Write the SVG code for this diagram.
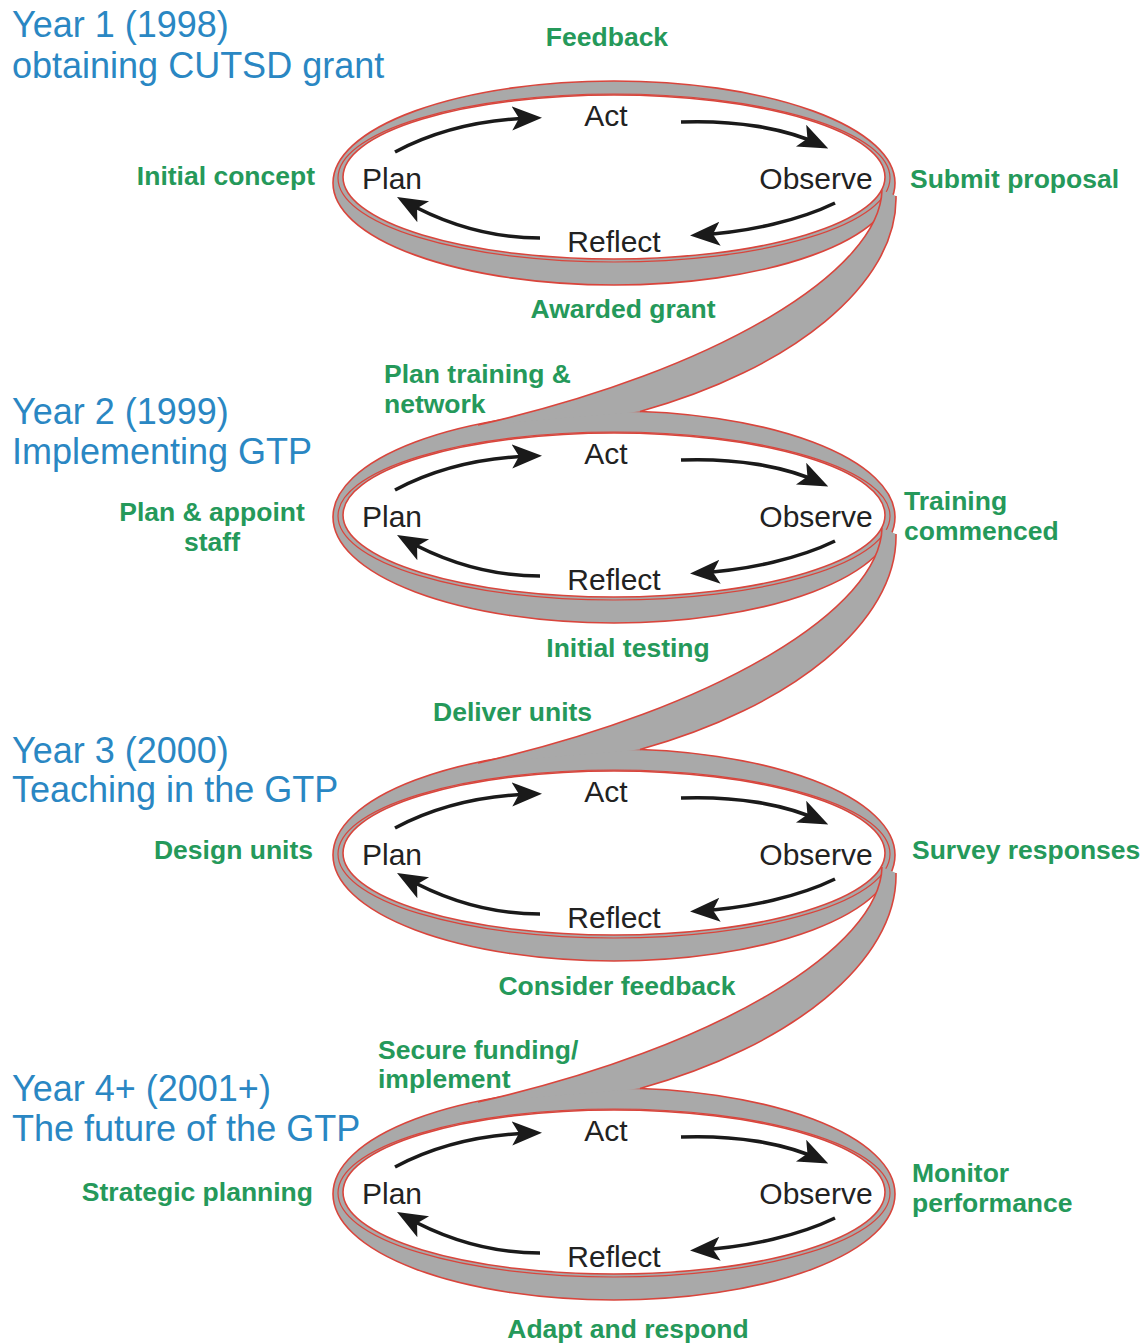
<svg xmlns="http://www.w3.org/2000/svg" width="1148" height="1344" viewBox="0 0 1148 1344">
<defs>
<style>
.outer{fill:#a9a9a9;stroke:#d9453c;stroke-width:1.6}
.mid{fill:none;stroke:#d9453c;stroke-width:1.2}
.inner{fill:#ffffff;stroke:#d9453c;stroke-width:1.6}
.arr{fill:none;stroke:#1a1a1a;stroke-width:3.6;marker-end:url(#ah)}
.blk{font-family:"Liberation Sans",Arial,sans-serif;font-size:30px;fill:#222222;text-anchor:middle}
.grn{font-family:"Liberation Sans",Arial,sans-serif;font-size:26.5px;font-weight:bold;fill:#25995a}
.blu{font-family:"Liberation Sans",Arial,sans-serif;font-size:36px;fill:#2a87c3}
.cfill{fill:#a9a9a9;stroke:none}
.cedge{fill:none;stroke:#d9453c;stroke-width:1.6}
</style>
<marker id="ah" markerUnits="userSpaceOnUse" viewBox="0 0 32 26" markerWidth="32" markerHeight="26" refX="22" refY="12" orient="auto">
<path d="M0,0 L30,12 L0,24 L7,12 Z" fill="#1a1a1a"/>
</marker>
<g id="cycle">
<path class="arr" d="M395,152 C440,128 490,119 534,118"/>
<path class="arr" d="M681,122 C735,120 785,128 821,145"/>
<path class="arr" d="M835,203 C800,220 750,232 698,235"/>
<path class="arr" d="M540,238 C490,238 445,224 404,201"/>
<text class="blk" x="606" y="126">Act</text>
<text class="blk" x="392" y="189">Plan</text>
<text class="blk" x="816" y="189">Observe</text>
<text class="blk" x="614" y="252">Reflect</text>
</g>
</defs>

<g id="loop1">
<ellipse class="outer" cx="614" cy="183" rx="281" ry="102"/>
<ellipse class="mid" cx="614" cy="178" rx="276" ry="84"/>
<ellipse class="inner" cx="614" cy="177" rx="271" ry="82"/>
<use href="#cycle"/>
</g>
<g id="loop2" transform="translate(0,338)">
<ellipse class="outer" cx="614" cy="179" rx="281" ry="106"/>
<ellipse class="mid" cx="614" cy="178" rx="276" ry="84"/>
<ellipse class="inner" cx="614" cy="177" rx="271" ry="82"/>
<use href="#cycle"/>
</g>
<g id="loop3" transform="translate(0,676)">
<ellipse class="outer" cx="614" cy="179" rx="281" ry="106"/>
<ellipse class="mid" cx="614" cy="178" rx="276" ry="84"/>
<ellipse class="inner" cx="614" cy="177" rx="271" ry="82"/>
<use href="#cycle"/>
</g>
<g id="loop4" transform="translate(0,1015)">
<ellipse class="outer" cx="614" cy="179" rx="281" ry="106"/>
<ellipse class="mid" cx="614" cy="178" rx="276" ry="84"/>
<ellipse class="inner" cx="614" cy="177" rx="271" ry="82"/>
<use href="#cycle"/>
</g>

<g id="connectors">
<g id="conn1">
<path class="cfill" d="M882,190 C880,270 720,370 478,425 L640,411.5 C790,370 898,285 896,196 Z"/>
<path class="cedge" d="M882,190 C880,270 720,370 478,425"/>
<path class="cedge" d="M896,196 C898,285 790,370 640,411.5"/>
</g>
<g id="conn2" transform="translate(0,338)">
<path class="cfill" d="M882,190 C880,270 720,370 478,425 L640,411.5 C790,370 898,285 896,196 Z"/>
<path class="cedge" d="M882,190 C880,270 720,370 478,425"/>
<path class="cedge" d="M896,196 C898,285 790,370 640,411.5"/>
</g>
<g id="conn3" transform="translate(0,677)">
<path class="cfill" d="M882,190 C880,270 720,370 478,425 L640,411.5 C790,370 898,285 896,196 Z"/>
<path class="cedge" d="M882,190 C880,270 720,370 478,425"/>
<path class="cedge" d="M896,196 C898,285 790,370 640,411.5"/>
</g>
</g>

<g id="titles">
<text class="blu" x="12" y="37">Year 1 (1998)</text>
<text class="blu" x="12" y="78">obtaining CUTSD grant</text>
<text class="blu" x="12" y="424">Year 2 (1999)</text>
<text class="blu" x="12" y="464">Implementing GTP</text>
<text class="blu" x="12" y="763">Year 3 (2000)</text>
<text class="blu" x="12" y="802">Teaching in the GTP</text>
<text class="blu" x="12" y="1101">Year 4+ (2001+)</text>
<text class="blu" x="12" y="1141">The future of the GTP</text>
</g>

<g id="labels">
<text class="grn" x="607" y="46" text-anchor="middle">Feedback</text>
<text class="grn" x="315" y="185" text-anchor="end">Initial concept</text>
<text class="grn" x="910" y="188">Submit proposal</text>
<text class="grn" x="623" y="318" text-anchor="middle">Awarded grant</text>
<text class="grn" x="384" y="383">Plan training &amp;</text>
<text class="grn" x="384" y="413">network</text>

<text class="grn" x="212" y="521" text-anchor="middle">Plan &amp; appoint</text>
<text class="grn" x="212" y="551" text-anchor="middle">staff</text>
<text class="grn" x="904" y="510">Training</text>
<text class="grn" x="904" y="540">commenced</text>
<text class="grn" x="628" y="657" text-anchor="middle">Initial testing</text>
<text class="grn" x="433" y="721">Deliver units</text>

<text class="grn" x="313" y="859" text-anchor="end">Design units</text>
<text class="grn" x="912" y="859">Survey responses</text>
<text class="grn" x="617" y="995" text-anchor="middle">Consider feedback</text>
<text class="grn" x="378" y="1059">Secure funding/</text>
<text class="grn" x="378" y="1088">implement</text>

<text class="grn" x="313" y="1201" text-anchor="end">Strategic planning</text>
<text class="grn" x="912" y="1182">Monitor</text>
<text class="grn" x="912" y="1212">performance</text>
<text class="grn" x="628" y="1338" text-anchor="middle">Adapt and respond</text>
</g>
</svg>
